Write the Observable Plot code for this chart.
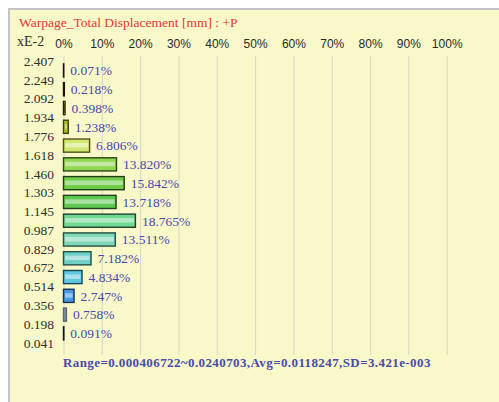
<!DOCTYPE html>
<html>
<head>
<meta charset="utf-8">
<script src="https://cdn.jsdelivr.net/npm/d3@7"></script>
<script src="https://cdn.jsdelivr.net/npm/@observablehq/plot@0.6"></script>
<style>
  html, body { margin: 0; padding: 0; background: #ffffff; width: 499px; height: 402px; overflow: hidden; }
  #panel { position: absolute; left: 8px; top: 8px; width: 520px; height: 420px;
    background: #f8f8c8; border-left: 2px solid #c4c4c4; border-top: 2px solid #c4c4c4; }
  #title { position: absolute; left: 19px; top: 15px; color: #e03a3a;
    font: 13.5px "Liberation Serif", serif; white-space: nowrap; letter-spacing: 0px; }
  #unit { position: absolute; left: 17px; top: 34px; color: #303030;
    font: 14px "Liberation Serif", serif; }
  #stats { position: absolute; left: 63px; top: 355px; color: #4a4aaa;
    font: bold 13px "Liberation Serif", serif; white-space: nowrap; letter-spacing: 0.4px; }
  #chart { position: absolute; left: 0; top: 0; }
</style>
</head>
<body>
<div id="panel"></div>
<div id="chart"></div>
<div id="title">Warpage_Total Displacement [mm] : +P</div>
<div id="unit">xE-2</div>
<div id="stats">Range=0.000406722~0.0240703,Avg=0.0118247,SD=3.421e-003</div>
<script>
const boundaryLabels = ["2.407","2.249","2.092","1.934","1.776","1.618","1.460","1.303","1.145","0.987","0.829","0.672","0.514","0.356","0.198","0.041"];
const percents = [0.071, 0.218, 0.398, 1.238, 6.806, 13.820, 15.842, 13.718, 18.765, 13.511, 7.182, 4.834, 2.747, 0.758, 0.091];
const fills = ["#c03020","#d06020","#c0a020","#a8c030","#d0e870","#90d850","#70cc48","#60c850","#70d890","#80d8b8","#70d0c8","#60c8e0","#4898e0","#8090a0","#2040a0"];
const strokes = ["#201010","#201008","#202008","#404010","#505018","#284818","#204018","#204020","#204030","#205040","#205048","#184858","#183060","#606870","#101020"];
const xTicks = [0,10,20,30,40,50,60,70,80,90,100];

const bins = percents.map((p, i) => ({i, p, fill: fills[i], stroke: strokes[i]}));

const chart = Plot.plot({
  width: 499,
  height: 402,
  marginLeft: 63.5,
  marginRight: 52.3,
  marginTop: 56,
  marginBottom: 47,
  style: {background: "transparent", overflow: "visible"},
  x: {domain: [0, 100]},
  y: {domain: [-0.27, 15.65], reverse: true},
  marks: [
    Plot.gridX(xTicks, {stroke: "#d6d6cc", strokeOpacity: 1, strokeWidth: 1}),
    Plot.axisX(xTicks, {anchor: "top", tickSize: 0, tickPadding: 9, tickFormat: d => d + "%",
      fontSize: 12, fontFamily: "Liberation Sans, sans-serif", fill: "#2a2a2a", label: null}),
    Plot.axisY(d3.range(boundaryLabels.length), {anchor: "left", tickSize: 0, tickPadding: 10,
      tickFormat: i => boundaryLabels[i], fontSize: 13.5, fontFamily: "Liberation Serif, serif",
      fill: "#303030", label: null}),
    Plot.rectX(bins, {x1: 0, x2: "p", y1: d => d.i + 0.15, y2: d => d.i + 0.85,
      fill: d => d.fill, stroke: d => d.stroke, strokeWidth: 1.4}),
    Plot.rectX(bins.filter(d => d.p > 1), {x1: 0, x2: "p", y1: d => d.i + 0.36, y2: d => d.i + 0.6,
      fill: "white", fillOpacity: 0.45, insetLeft: 1.5, insetRight: 1.5}),
    Plot.text(bins, {x: "p", y: d => d.i + 0.5, text: d => d.p.toFixed(3) + "%", textAnchor: "start",
      dx: 6, fill: "#4848b0", fontSize: 13.5, fontFamily: "Liberation Serif, serif", letterSpacing: 0.3})
  ]
});
document.getElementById("chart").append(chart);
</script>
</body>
</html>
